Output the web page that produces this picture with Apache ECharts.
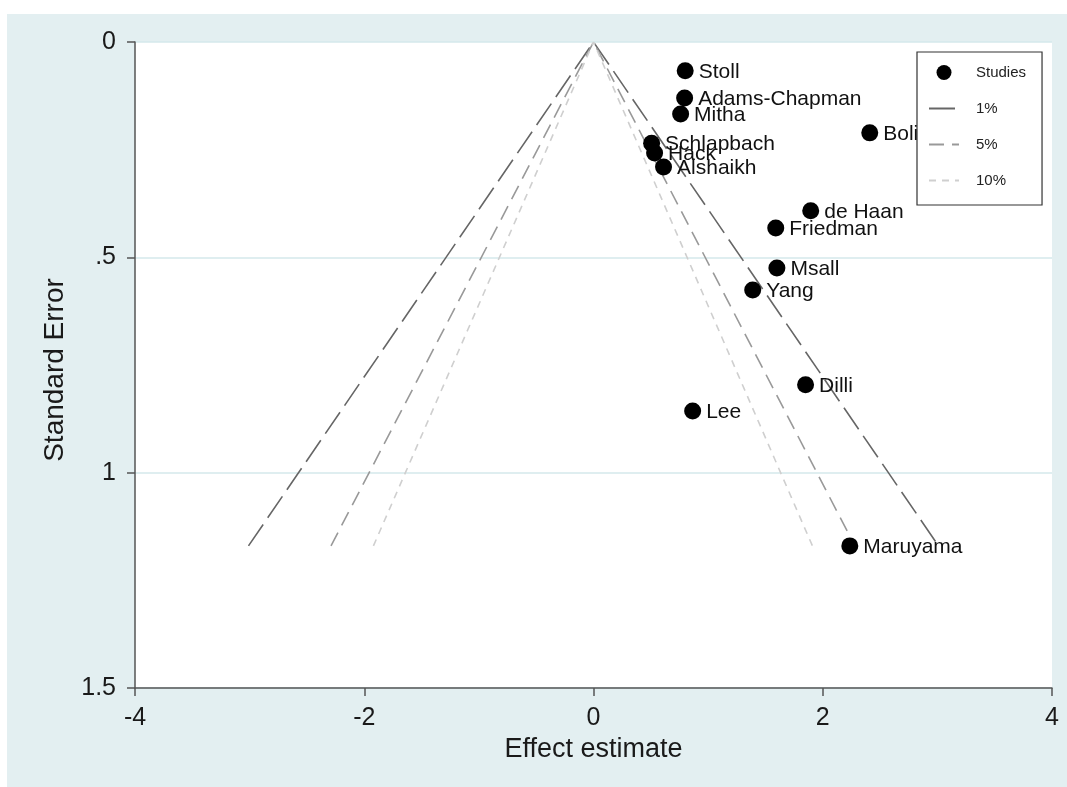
<!DOCTYPE html>
<html>
<head>
<meta charset="utf-8">
<script src="https://cdn.jsdelivr.net/npm/echarts@6/dist/echarts.min.js"></script>
<style>
html,body{margin:0;padding:0;background:#ffffff;width:1067px;height:787px;overflow:hidden;}
#chart{position:absolute;left:7px;top:14px;width:1060px;height:773px;}
</style>
</head>
<body>
<div id="chart"></div>
<script>
// Study names, effect estimates and standard errors
const studyNames = ["Stoll","Adams-Chapman","Mitha","Bolisetty","Schlapbach","Hack","Alshaikh","de Haan","Friedman","Msall","Yang","Dilli","Lee","Maruyama"];
const studyEffect = [0.80, 0.795, 0.76, 2.41, 0.507, 0.533, 0.611, 1.895, 1.59, 1.60, 1.389, 1.85, 0.865, 2.236];
const studySE = [0.067, 0.130, 0.167, 0.211, 0.235, 0.258, 0.290, 0.392, 0.432, 0.525, 0.576, 0.796, 0.857, 1.170];

// Funnel (pseudo confidence) line end points: [effect, SE]
const funnel1 = [[-3.01, 1.17], [0, 0], [3.01, 1.17]];
const funnel5 = [[-2.29, 1.17], [0, 0], [2.28, 1.17]];
const funnel10 = [[-1.92, 1.17], [0, 0], [1.91, 1.17]];

// Tick values
const xTicks = [-4, -2, 0, 2, 4];
const yTicks = [0, 0.5, 1, 1.5];
const yTickLabels = {"0": "0", "0.5": ".5", "1": "1", "1.5": "1.5"};

const font = "'Liberation Sans', Arial, sans-serif";
const studyData = studyNames.map((n, i) => ({name: n, value: [studyEffect[i], studySE[i]]}));

const chart = echarts.init(document.getElementById('chart'), null, {renderer: 'canvas'});
chart.setOption({
  backgroundColor: '#e3eff1',
  animation: false,
  textStyle: {fontFamily: font},
  grid: {left: 128, top: 28, right: 15, bottom: 99, show: true, backgroundColor: '#ffffff', borderWidth: 0},
  legend: {
    left: 910, top: 38,
    orient: 'vertical',
    backgroundColor: '#ffffff',
    borderColor: '#333333', borderWidth: 1.2,
    padding: [13, 16, 17, 11],
    itemGap: 21,
    itemWidth: 30, itemHeight: 15,
    textStyle: {fontSize: 15, color: '#222', fontFamily: font, padding: [0, 0, 0, 12]},
    data: [
      {name: 'Studies', icon: 'circle', itemStyle: {color: '#000', opacity: 1}},
      {name: '1%', itemStyle: {opacity: 0}},
      {name: '5%', itemStyle: {opacity: 0}},
      {name: '10%', itemStyle: {opacity: 0}}
    ],
    z: 10
  },
  xAxis: {
    type: 'value', min: xTicks[0], max: xTicks[xTicks.length - 1], interval: 2,
    name: 'Effect estimate', nameLocation: 'middle', nameGap: 44,
    nameTextStyle: {fontSize: 27, color: '#1a1a1a', fontFamily: font},
    axisLine: {show: true, onZero: false, lineStyle: {color: '#555', width: 1.5}},
    axisTick: {show: true, length: 8, lineStyle: {color: '#555', width: 1.5}},
    axisLabel: {fontSize: 25, color: '#1a1a1a', margin: 18, fontFamily: font},
    splitLine: {show: false}
  },
  yAxis: {
    type: 'value', inverse: true, min: yTicks[0], max: yTicks[yTicks.length - 1], interval: 0.5,
    name: 'Standard Error', nameLocation: 'middle', nameGap: 66, nameRotate: 90,
    nameTextStyle: {fontSize: 28, color: '#1a1a1a', fontFamily: font, padding: [0, 10, 0, 0]},
    axisLine: {show: true, onZero: false, lineStyle: {color: '#555', width: 1.5}},
    axisTick: {show: true, length: 8, lineStyle: {color: '#555', width: 1.5}},
    axisLabel: {fontSize: 25, color: '#1a1a1a', margin: 19, fontFamily: font,
      formatter: v => yTickLabels[String(v)] !== undefined ? yTickLabels[String(v)] : String(v)},
    splitLine: {show: true, lineStyle: {color: '#d4e8eb', width: 1.5}}
  },
  series: [
    {
      name: 'Studies', type: 'scatter', data: studyData, z: 5,
      symbol: 'circle', symbolSize: 17,
      itemStyle: {color: '#000000', opacity: 1},
      label: {show: true, position: 'right', distance: 5, formatter: p => p.name,
        fontSize: 21, color: '#111', fontFamily: font, offset: [0, 1]}
    },
    {
      name: '1%', type: 'line', data: funnel1, symbol: 'none', z: 3,
      lineStyle: {color: '#666666', width: 1.6, type: [26, 8]},
      itemStyle: {color: '#666666'}
    },
    {
      name: '5%', type: 'line', data: funnel5, symbol: 'none', z: 3,
      lineStyle: {color: '#999999', width: 1.6, type: [15, 8]},
      itemStyle: {color: '#999999'}
    },
    {
      name: '10%', type: 'line', data: funnel10, symbol: 'none', z: 3,
      lineStyle: {color: '#cfcfcf', width: 1.6, type: [7, 6]},
      itemStyle: {color: '#cfcfcf'}
    }
  ]
});
</script>
</body>
</html>
